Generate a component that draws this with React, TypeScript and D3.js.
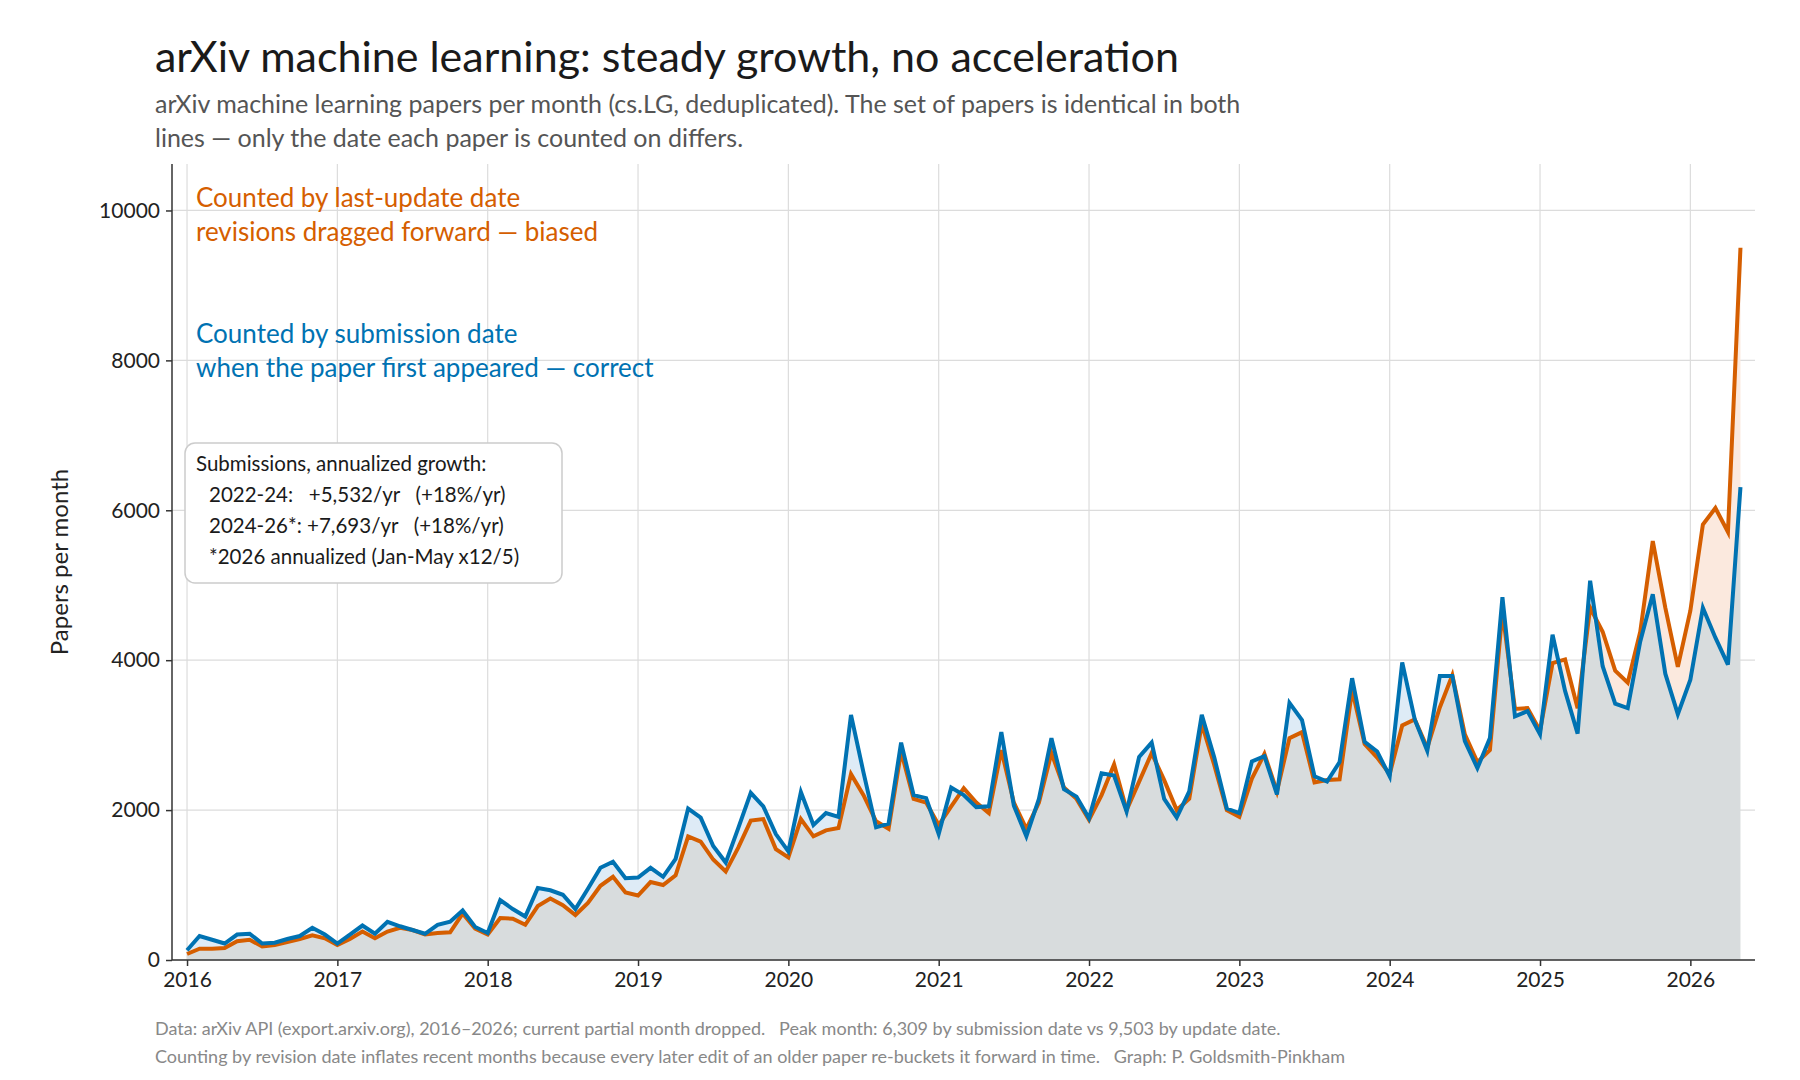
import React, { useEffect, useRef } from 'react';
import * as d3 from 'd3';

const startYear = 2016;
const yearTicks = [2016, 2017, 2018, 2019, 2020, 2021, 2022, 2023, 2024, 2025, 2026];
const yTicks = [0, 2000, 4000, 6000, 8000, 10000];

// submission date (blue), Jan 2016 .. May 2026
const bySubmission = [
  130, 320, 270, 220, 340, 350, 220, 230, 280, 320, 430, 340,
  220, 340, 460, 350, 510, 450, 400, 350, 470, 510, 660, 440,
  360, 800, 680, 580, 960, 930, 870, 680, 950, 1230, 1310, 1090,
  1100, 1230, 1110, 1350, 2020, 1900, 1520, 1300, 1760, 2230, 2050, 1680,
  1450, 2240, 1800, 1960, 1910, 3270, 2500, 1770, 1820, 2900, 2200, 2160,
  1680, 2300, 2200, 2040, 2050, 3040, 2060, 1650, 2150, 2960, 2280, 2180,
  1890, 2490, 2460, 1980, 2710, 2900, 2150, 1900, 2250, 3270, 2700, 2020,
  1960, 2650, 2720, 2210, 3430, 3200, 2450, 2380, 2640, 3760, 2910, 2780,
  2450, 3970, 3210, 2790, 3790, 3790, 2920, 2560, 2960, 4840, 3250, 3320,
  3010, 4340, 3590, 3020, 5060, 3920, 3420, 3360, 4250, 4880, 3820, 3280,
  3740, 4700, 4300, 3940, 6309,
];

// last-update date (orange)
const byUpdate = [
  80, 150, 150, 160, 250, 270, 180, 200, 240, 280, 330, 290,
  200, 280, 380, 290, 380, 430, 400, 340, 360, 370, 620, 420,
  340, 560, 550, 470, 720, 820, 730, 600, 760, 990, 1110, 900,
  860, 1040, 1000, 1130, 1650, 1580, 1340, 1180, 1500, 1860, 1880, 1480,
  1370, 1880, 1650, 1730, 1760, 2480, 2200, 1850, 1750, 2780, 2150, 2100,
  1800, 2050, 2290, 2100, 1960, 2800, 2100, 1750, 2100, 2760, 2300, 2150,
  1870, 2200, 2610, 2000, 2380, 2760, 2400, 2000, 2150, 3150, 2600, 2000,
  1910, 2420, 2750, 2250, 2960, 3040, 2370, 2400, 2410, 3600, 2880, 2700,
  2480, 3130, 3210, 2830, 3370, 3800, 3010, 2640, 2800, 4650, 3350, 3360,
  3060, 3960, 4010, 3360, 4700, 4380, 3860, 3700, 4380, 5590, 4700, 3910,
  4660, 5810, 6030, 5710, 9503,
];

const BLUE = '#0072b2';
const ORANGE = '#d55e00';
const FONT = 'Lato, "Open Sans", sans-serif';

export default function App() {
  const svgRef = useRef<SVGSVGElement>(null);

  useEffect(() => {
    if (!svgRef.current) return;
    const svg = d3.select(svgRef.current);
    svg.selectAll('*').remove();

    const left = 172, right = 1755, top = 164, bottom = 960;
    const x = d3.scaleLinear().domain([2015.9, 2026.43]).range([left, right]);
    const y = d3.scaleLinear().domain([0, 10620]).range([bottom, top]);

    const data = bySubmission.map((b, i) => ({
      t: startYear + i / 12,
      b,
      o: byUpdate[i],
    }));

    // grid
    const grid = svg.append('g');
    yTicks.forEach(v => {
      grid.append('line').attr('x1', left).attr('x2', right)
        .attr('y1', y(v)).attr('y2', y(v)).attr('stroke', '#dcdcdc').attr('stroke-width', 1.2);
    });
    yearTicks.forEach(v => {
      grid.append('line').attr('x1', x(v)).attr('x2', x(v))
        .attr('y1', top).attr('y2', bottom).attr('stroke', '#dcdcdc').attr('stroke-width', 1.2);
    });

    // fills
    const minArea = d3.area<any>().x(d => x(d.t)).y0(y(0)).y1(d => y(Math.min(d.b, d.o)));
    const blueBand = d3.area<any>().x(d => x(d.t)).y0(d => y(Math.min(d.b, d.o))).y1(d => y(d.b));
    const orangeBand = d3.area<any>().x(d => x(d.t)).y0(d => y(Math.min(d.b, d.o))).y1(d => y(d.o));
    svg.append('path').datum(data).attr('d', blueBand).attr('fill', '#deebf6');
    svg.append('path').datum(data).attr('d', orangeBand).attr('fill', '#fbe9de');
    svg.append('path').datum(data).attr('d', minArea).attr('fill', '#d8dcdd');

    const lineO = d3.line<any>().x(d => x(d.t)).y(d => y(d.o));
    const lineB = d3.line<any>().x(d => x(d.t)).y(d => y(d.b));
    svg.append('path').datum(data).attr('d', lineO).attr('fill', 'none')
      .attr('stroke', ORANGE).attr('stroke-width', 4).attr('stroke-linejoin', 'miter');
    svg.append('path').datum(data).attr('d', lineB).attr('fill', 'none')
      .attr('stroke', BLUE).attr('stroke-width', 4).attr('stroke-linejoin', 'miter');

    // axes
    const xAxis = svg.append('g').attr('transform', `translate(0,${bottom})`)
      .call(d3.axisBottom(x).tickValues(yearTicks).tickFormat(d3.format('d')).tickSize(6).tickPadding(6));
    const yAxis = svg.append('g').attr('transform', `translate(${left},0)`)
      .call(d3.axisLeft(y).tickValues(yTicks).tickFormat(d3.format('d')).tickSize(6).tickPadding(6));
    [xAxis, yAxis].forEach(ax => {
      ax.select('.domain').attr('stroke', '#333').attr('stroke-width', 1.5);
      ax.selectAll('line').attr('stroke', '#333').attr('stroke-width', 1.5);
      ax.selectAll('text').attr('font-family', FONT).attr('font-size', 21).attr('fill', '#222');
    });
    xAxis.select('.domain').attr('d', `M${left},0H${right}`);
    yAxis.select('.domain').attr('d', `M0,${bottom}V${top}`);

    // y label
    svg.append('text').attr('transform', `translate(68,${(top + bottom) / 2}) rotate(-90)`)
      .attr('text-anchor', 'middle').attr('font-family', FONT).attr('font-size', 24).attr('fill', '#222')
      .text('Papers per month');

    // titles
    svg.append('text').attr('x', 155).attr('y', 72).attr('font-family', FONT).attr('font-size', 43)
      .attr('fill', '#1a1a1a').text('arXiv machine learning: steady growth, no acceleration');
    const sub = ['arXiv machine learning papers per month (cs.LG, deduplicated). The set of papers is identical in both',
      'lines — only the date each paper is counted on differs.'];
    sub.forEach((s, i) => svg.append('text').attr('x', 155).attr('y', 113 + i * 34)
      .attr('font-family', FONT).attr('font-size', 25).attr('fill', '#555').text(s));

    // annotations
    const ann = [
      { t: 'Counted by last-update date', y: 207, c: ORANGE },
      { t: 'revisions dragged forward — biased', y: 241, c: ORANGE },
      { t: 'Counted by submission date', y: 343, c: BLUE },
      { t: 'when the paper first appeared — correct', y: 377, c: BLUE },
    ];
    ann.forEach(a => svg.append('text').attr('x', 196).attr('y', a.y)
      .attr('font-family', FONT).attr('font-size', 26).attr('fill', a.c).text(a.t));

    svg.append('rect').attr('x', 185).attr('y', 443).attr('width', 377).attr('height', 140)
      .attr('rx', 10).attr('fill', 'white').attr('stroke', '#cccccc').attr('stroke-width', 1.5);
    const box = [
      { t: 'Submissions, annualized growth:', x: 196 },
      { t: '2022-24:   +5,532/yr   (+18%/yr)', x: 209 },
      { t: '2024-26*: +7,693/yr   (+18%/yr)', x: 209 },
      { t: '*2026 annualized (Jan-May x12/5)', x: 209 },
    ];
    box.forEach((b, i) => svg.append('text').attr('x', b.x).attr('y', 471 + i * 31)
      .attr('font-family', FONT).attr('font-size', 20.5).attr('fill', '#1a1a1a')
      .style('white-space', 'pre').text(b.t));

    const foot = ['Data: arXiv API (export.arxiv.org), 2016–2026; current partial month dropped.   Peak month: 6,309 by submission date vs 9,503 by update date.',
      'Counting by revision date inflates recent months because every later edit of an older paper re-buckets it forward in time.   Graph: P. Goldsmith-Pinkham'];
    foot.forEach((s, i) => svg.append('text').attr('x', 155).attr('y', 1035 + i * 28)
      .attr('font-family', FONT).attr('font-size', 18).attr('fill', '#888')
      .style('white-space', 'pre').text(s));
  }, []);

  return (
    <svg ref={svgRef} width={1800} height={1080}
      style={{ display: 'block', background: 'white', position: 'absolute', left: 0, top: 0 }} />
  );
}
